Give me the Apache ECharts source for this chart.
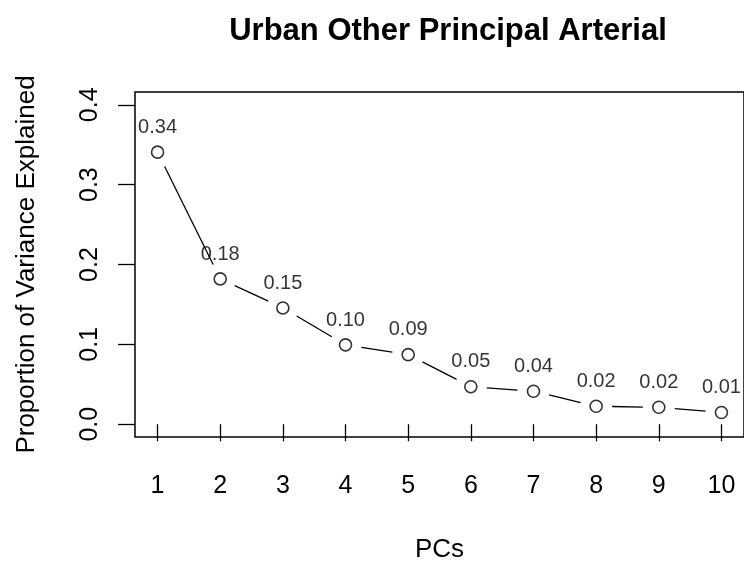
<!DOCTYPE html>
<html>
<head>
<meta charset="utf-8">
<script src="https://cdn.jsdelivr.net/npm/echarts@6/dist/echarts.min.js"></script>
<style>
html,body{margin:0;padding:0;background:#fff;}
#chart{width:744px;height:568px;}
</style>
</head>
<body>
<div id="chart"></div>
<script>
var pcs = [1, 2, 3, 4, 5, 6, 7, 8, 9, 10];
var variance = [0.3407, 0.182, 0.1456, 0.0994, 0.0871, 0.047, 0.0413, 0.0225, 0.0212, 0.0147];
var pointLabels = ['0.34', '0.18', '0.15', '0.10', '0.09', '0.05', '0.04', '0.02', '0.02', '0.01'];
var xTicks = [1, 2, 3, 4, 5, 6, 7, 8, 9, 10];
var yTicks = [0, 0.1, 0.2, 0.3, 0.4];

var FONT = 'Liberation Sans, Arial, Helvetica, sans-serif';

var points = pcs.map(function (x, i) { return [x, variance[i], pointLabels[i]]; });
var segments = [];
for (var i = 0; i < pcs.length - 1; i++) {
  segments.push([pcs[i], variance[i], pcs[i + 1], variance[i + 1]]);
}

var chart = echarts.init(document.getElementById('chart'), null, {renderer: 'canvas'});
chart.setOption({
  animation: false,
  backgroundColor: '#ffffff',
  title: {
    text: 'Urban Other Principal Arterial',
    left: 443,
    top: 11,
    textAlign: 'center',
    textStyle: {fontFamily: FONT, fontWeight: 'bold', fontSize: 31, color: '#000'}
  },
  grid: {
    left: 135, top: 92, right: -2, bottom: 125,
    show: true, borderColor: '#000', borderWidth: 1.5, backgroundColor: 'transparent'
  },
  xAxis: {
    type: 'value', min: 0.64, max: 10.36,
    name: 'PCs', nameLocation: 'middle', nameGap: 100,
    nameTextStyle: {fontFamily: FONT, fontSize: 26, color: '#000'},
    axisLine: {show: false},
    splitLine: {show: false},
    axisTick: {show: true, inside: false, length: 17, customValues: xTicks, lineStyle: {color: '#000', width: 1.3}},
    axisLabel: {customValues: xTicks, margin: 37, fontFamily: FONT, fontSize: 25, color: '#000'}
  },
  yAxis: {
    type: 'value', min: -0.016, max: 0.416,
    name: 'Proportion of Variance Explained', nameLocation: 'middle', nameGap: 95, nameRotate: 90,
    nameTextStyle: {fontFamily: FONT, fontSize: 26, color: '#000'},
    axisLine: {show: false},
    splitLine: {show: false},
    axisTick: {show: true, inside: false, length: 17, customValues: yTicks, lineStyle: {color: '#000', width: 1.3}},
    axisLabel: {customValues: yTicks, rotate: 90, margin: 32, fontFamily: FONT, fontSize: 25, color: '#000',
      formatter: function (v) { return Number(v).toFixed(1); }}
  },
  series: [
    {
      type: 'custom',
      coordinateSystem: 'cartesian2d',
      data: segments,
      encode: {x: [0, 2], y: [1, 3]},
      silent: true,
      renderItem: function (params, api) {
        var p1 = api.coord([api.value(0), api.value(1)]);
        var p2 = api.coord([api.value(2), api.value(3)]);
        var dx = p2[0] - p1[0], dy = p2[1] - p1[1];
        var len = Math.sqrt(dx * dx + dy * dy);
        var gap = 16;
        if (len <= 2 * gap) return null;
        var ux = dx / len, uy = dy / len;
        return {
          type: 'line',
          shape: {x1: p1[0] + ux * gap, y1: p1[1] + uy * gap, x2: p2[0] - ux * gap, y2: p2[1] - uy * gap},
          style: {stroke: '#000', lineWidth: 1.3}
        };
      }
    },
    {
      type: 'scatter',
      data: points,
      symbol: 'circle',
      symbolSize: 12,
      itemStyle: {color: 'transparent', borderColor: '#000', borderWidth: 1.6},
      label: {
        show: true, position: 'top', distance: 8,
        formatter: function (p) { return p.data[2]; },
        fontFamily: FONT, fontSize: 20, color: '#000'
      },
      emphasis: {disabled: true}
    }
  ]
});
</script>
</body>
</html>
